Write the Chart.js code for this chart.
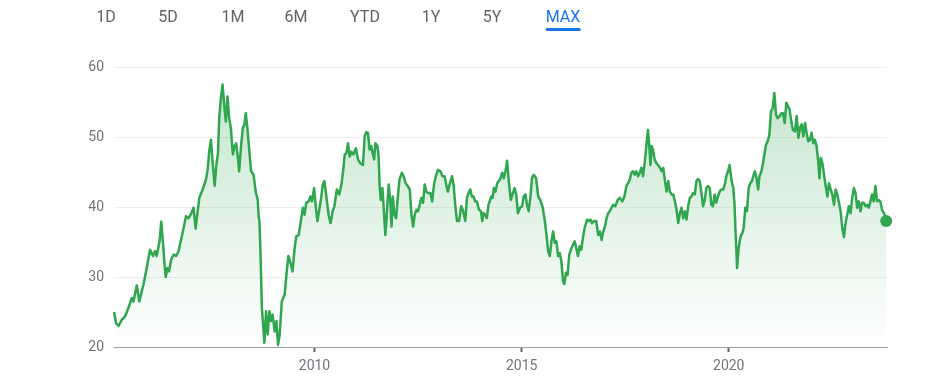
<!DOCTYPE html>
<html>
<head>
<meta charset="utf-8">
<script src="https://cdn.jsdelivr.net/npm/chart.js@4.4.0/dist/chart.umd.min.js"></script>
<style>
  html, body { margin: 0; padding: 0; background: #fff; }
  #wrap { position: relative; width: 946px; height: 383px; overflow: hidden; }
  #graph { position: absolute; left: 0; top: 0; }
  #tabs { position: absolute; left: 0; top: 0; width: 946px; height: 34px; font-family: Roboto, Arial, sans-serif; font-size: 16px; color: #5f6368; }
  #tabs span { position: absolute; top: 0; line-height: 34px; transform: translateX(-50%); white-space: nowrap; }
  #tabs span.on { color: #1a73e8; }
  #tabs span.on::after { content: ''; position: absolute; left: 0; right: 0; bottom: 3px; height: 3px; border-radius: 2px; background: #1a73e8; }
</style>
</head>
<body>
<div id="wrap">
  <canvas id="graph" width="946" height="383"></canvas>
  <div id="tabs"></div>
</div>
<script>
// range buttons above the chart
const ranges = ['1D', '5D', '1M', '6M', 'YTD', '1Y', '5Y', 'MAX'];
const rangeX = [106, 168, 233, 296, 365, 431, 492, 563];
const activeRange = 'MAX';

// axis ticks
const xTicks = [2010, 2015, 2020];
const yTicks = [20, 30, 40, 50, 60];

// price history, dates as decimal years
const dates = [
  2005.16, 2005.21, 2005.27, 2005.35, 2005.43, 2005.51, 2005.59, 2005.63, 2005.71, 2005.77,
  2005.87, 2005.95, 2006.03, 2006.10, 2006.15, 2006.19, 2006.26, 2006.30, 2006.34, 2006.38,
  2006.41, 2006.45, 2006.49, 2006.54, 2006.60, 2006.66, 2006.72, 2006.77, 2006.84, 2006.90,
  2006.96, 2007.01, 2007.08, 2007.13, 2007.17, 2007.22, 2007.30, 2007.38, 2007.42, 2007.46,
  2007.50, 2007.54, 2007.59, 2007.63, 2007.67, 2007.70, 2007.74, 2007.78, 2007.82, 2007.86,
  2007.90, 2007.94, 2007.98, 2008.03, 2008.07, 2008.11, 2008.17,
  2008.18, 2008.23, 2008.27, 2008.31, 2008.34, 2008.38, 2008.42, 2008.47, 2008.53, 2008.58,
  2008.63, 2008.65, 2008.67, 2008.70, 2008.73, 2008.76, 2008.79, 2008.83, 2008.87, 2008.91,
  2008.95, 2008.99, 2009.04, 2009.08, 2009.12, 2009.16, 2009.21, 2009.28, 2009.33, 2009.37,
  2009.43, 2009.47, 2009.52, 2009.56, 2009.62, 2009.67, 2009.72, 2009.76, 2009.80, 2009.86,
  2009.90, 2009.94, 2009.99, 2010.03, 2010.07, 2010.11, 2010.16, 2010.20, 2010.24, 2010.28,
  2010.34, 2010.39, 2010.44, 2010.48, 2010.54, 2010.60, 2010.65, 2010.69, 2010.73, 2010.77,
  2010.81, 2010.85, 2010.89, 2010.94, 2011.00, 2011.05, 2011.10,
  2011.17, 2011.21, 2011.25, 2011.29, 2011.33, 2011.37, 2011.41, 2011.44, 2011.47, 2011.52,
  2011.55, 2011.57, 2011.60, 2011.64, 2011.67, 2011.71, 2011.75, 2011.79, 2011.83, 2011.86,
  2011.89, 2011.93, 2011.97, 2012.01, 2012.05, 2012.11, 2012.15, 2012.20, 2012.25, 2012.30,
  2012.34, 2012.38, 2012.42, 2012.46, 2012.50, 2012.54, 2012.58, 2012.62, 2012.66, 2012.70,
  2012.74, 2012.80, 2012.84, 2012.89, 2012.94, 2012.98, 2013.04, 2013.09, 2013.14, 2013.18,
  2013.22, 2013.26, 2013.32, 2013.36, 2013.40, 2013.44, 2013.49, 2013.54, 2013.58, 2013.64,
  2013.68, 2013.72, 2013.76, 2013.80, 2013.84, 2013.88, 2013.92, 2013.97, 2014.02, 2014.05,
  2014.08, 2014.12, 2014.16, 2014.20,
  2014.27, 2014.30, 2014.33, 2014.37, 2014.41, 2014.45, 2014.49, 2014.53, 2014.57, 2014.61,
  2014.65, 2014.69, 2014.74, 2014.78, 2014.83, 2014.87, 2014.91, 2014.96, 2015.01, 2015.05,
  2015.09, 2015.13, 2015.17, 2015.21, 2015.25, 2015.29, 2015.35, 2015.40, 2015.45, 2015.51,
  2015.56, 2015.60, 2015.64, 2015.68, 2015.72, 2015.76, 2015.80, 2015.84, 2015.88, 2015.92,
  2015.96, 2016.00, 2016.03, 2016.07, 2016.11, 2016.15, 2016.20, 2016.24, 2016.28, 2016.32,
  2016.36, 2016.40, 2016.44, 2016.48, 2016.52, 2016.58, 2016.62, 2016.66, 2016.70, 2016.75,
  2016.80, 2016.85, 2016.89, 2016.93, 2016.97, 2017.01, 2017.05, 2017.09, 2017.13, 2017.17,
  2017.21,
  2017.26, 2017.32, 2017.37, 2017.43, 2017.48, 2017.53, 2017.57, 2017.61, 2017.65, 2017.69,
  2017.73, 2017.77, 2017.81, 2017.85, 2017.89, 2017.93, 2017.97, 2018.01, 2018.05, 2018.08,
  2018.11, 2018.14, 2018.17, 2018.21, 2018.25, 2018.29, 2018.34, 2018.38, 2018.42, 2018.46,
  2018.50, 2018.54, 2018.58, 2018.62, 2018.66, 2018.70, 2018.74, 2018.78, 2018.82, 2018.86,
  2018.90, 2018.94, 2018.98, 2019.02, 2019.06, 2019.10, 2019.14, 2019.18, 2019.22, 2019.26,
  2019.30, 2019.34, 2019.38, 2019.42, 2019.46, 2019.50, 2019.54, 2019.58, 2019.62, 2019.66,
  2019.70, 2019.74, 2019.78, 2019.82, 2019.87, 2019.91, 2019.95, 2019.99, 2020.02, 2020.05,
  2020.07, 2020.11, 2020.14, 2020.16, 2020.19, 2020.20, 2020.24, 2020.27, 2020.30, 2020.33,
  2020.36,
  2020.40, 2020.44, 2020.48, 2020.52, 2020.56, 2020.60, 2020.63, 2020.67, 2020.71, 2020.74,
  2020.78, 2020.82, 2020.86, 2020.90, 2020.94, 2020.98, 2021.02, 2021.06, 2021.10, 2021.14,
  2021.18, 2021.23, 2021.27, 2021.31, 2021.35, 2021.39, 2021.43, 2021.47, 2021.51, 2021.55,
  2021.60, 2021.64, 2021.68, 2021.72, 2021.76, 2021.80, 2021.84, 2021.88, 2021.92, 2021.96,
  2022.00, 2022.04, 2022.08, 2022.12, 2022.16, 2022.19, 2022.22, 2022.26, 2022.30, 2022.34,
  2022.38, 2022.42, 2022.46, 2022.50, 2022.54, 2022.58, 2022.62, 2022.66, 2022.70, 2022.74,
  2022.78, 2022.82, 2022.86, 2022.90, 2022.94, 2022.98, 2023.02, 2023.06, 2023.10, 2023.14,
  2023.18, 2023.22, 2023.26, 2023.30, 2023.34, 2023.38, 2023.42, 2023.46, 2023.50, 2023.54,
  2023.58, 2023.62, 2023.66, 2023.70, 2023.75, 2023.80
];

const prices = [
  25.0, 23.4, 23.0, 23.9, 24.4, 25.6, 27.0, 26.5, 28.8, 26.5,
  28.9, 31.3, 33.9, 33.0, 33.7, 33.0, 35.1, 37.9, 35.1, 31.8,
  30.0, 31.3, 30.8, 32.5, 33.2, 33.0, 33.7, 35.1, 37.0, 38.7,
  38.4, 38.9, 39.9, 36.9, 38.9, 41.3, 42.5, 43.9, 45.3, 48.0,
  49.6, 46.5, 43.0, 46.0, 47.7, 52.7, 55.6, 57.5, 54.6, 52.2,
  55.8, 52.7, 51.3, 47.5, 48.7, 49.1, 46.0,
  45.1, 48.9, 51.3, 51.8, 53.4, 51.3, 48.4, 45.1, 44.6, 42.2,
  41.0, 38.7, 38.0, 32.7, 25.6, 23.2, 20.6, 25.1, 21.8, 25.1,
  23.7, 24.6, 22.2, 23.7, 20.3, 21.8, 26.5, 27.5, 30.8, 33.0,
  31.8, 30.8, 34.1, 35.8, 36.0, 38.0, 39.9, 38.9, 40.6, 40.8,
  41.5, 40.8, 42.7, 40.1, 38.0, 39.4, 41.3, 43.2, 43.7, 41.8,
  38.9, 37.7, 39.4, 40.1, 42.5, 41.8, 43.2, 45.1, 47.5, 47.7,
  49.1, 47.2, 47.9, 47.5, 48.4, 46.8, 46.3,
  46.0, 50.1, 50.7, 50.6, 48.2, 48.7, 47.5, 46.8, 49.1, 48.7,
  47.0, 43.2, 41.0, 42.7, 39.9, 36.0, 39.4, 43.2, 40.8, 37.2,
  41.5, 38.9, 38.4, 41.3, 43.9, 44.9, 44.4, 43.4, 43.0, 42.5,
  38.9, 37.2, 38.9, 39.6, 39.4, 40.3, 41.3, 40.6, 43.2, 42.2,
  42.0, 42.0, 40.8, 43.4, 44.6, 45.3, 45.1, 44.4, 44.4, 43.2,
  42.2, 43.2, 44.4, 43.0, 40.1, 38.0, 38.0, 40.1, 39.6, 38.0,
  41.3, 42.0, 42.5, 41.5, 41.5, 40.8, 40.8, 39.6, 39.4, 38.0,
  39.1, 38.9, 38.4, 40.3,
  41.5, 41.3, 42.7, 42.2, 43.4, 43.7, 44.1, 44.9, 44.1, 45.1,
  46.6, 43.7, 41.0, 41.8, 42.7, 41.8, 39.1, 39.9, 40.1, 41.5,
  41.8, 40.3, 39.4, 41.3, 44.1, 44.6, 44.1, 41.5, 41.0, 39.9,
  38.0, 36.0, 33.7, 33.0, 35.1, 36.5, 34.9, 35.1, 33.0, 33.4,
  32.2, 29.4, 29.0, 30.6, 30.3, 33.2, 34.1, 34.6, 35.1, 34.1,
  33.0, 34.4, 33.9, 35.6, 37.0, 38.2, 38.0, 38.2, 37.7, 38.0,
  38.0, 36.0, 36.5, 35.3, 36.5, 37.2, 38.4, 39.1, 39.4, 39.9,
  40.3,
  40.1, 41.0, 41.3, 40.8, 41.5, 43.0, 43.4, 43.9, 44.9, 45.1,
  44.6, 45.1, 44.4, 44.9, 45.6, 44.4, 46.3, 48.7, 51.0, 48.9,
  46.0, 48.7, 48.2, 46.8, 46.3, 46.0, 45.6, 45.1, 45.6, 43.7,
  42.2, 43.7, 42.2, 41.8, 41.8, 40.8, 39.6, 37.7, 39.1, 39.9,
  38.4, 39.4, 38.2, 40.1, 41.3, 41.5, 42.0, 41.8, 43.7, 44.0,
  43.7, 42.0, 40.1, 41.0, 42.7, 43.0, 42.7, 40.3, 40.1, 41.8,
  40.6, 41.5, 42.2, 42.5, 42.5, 43.4, 44.6, 45.3, 46.0, 44.6,
  43.7, 42.7, 40.3, 37.0, 33.0, 31.3, 34.1, 35.3, 36.0, 36.3,
  37.0,
  39.9, 39.4, 42.7, 43.4, 43.7, 44.6, 45.1, 44.1, 42.5, 44.4,
  44.9, 46.0, 47.5, 48.9, 49.4, 50.3, 53.7, 54.1, 56.3, 53.2,
  52.7, 53.0, 53.4, 53.4, 52.0, 54.9, 54.4, 53.9, 52.2, 51.0,
  50.8, 53.0, 49.9, 51.3, 51.8, 50.1, 52.0, 50.6, 49.4, 49.6,
  50.6, 49.1, 49.6, 48.7, 46.5, 44.1, 47.0, 46.3, 44.6, 43.0,
  41.5, 43.4, 42.5, 41.8, 40.3, 42.5, 41.8, 40.6, 39.4, 37.0,
  35.7, 37.7, 38.9, 40.1, 39.1, 41.3, 42.7, 42.0, 39.9, 40.8,
  39.4, 40.6, 40.6, 40.1, 40.3, 39.9, 40.8, 41.8, 40.8, 43.0,
  40.8, 41.0, 40.8, 39.6, 39.1, 38.0
];

const green = '#2fa64f';
const lastIndex = prices.length - 1;

// tabs
const tabs = document.getElementById('tabs');
ranges.forEach((r, i) => {
  const s = document.createElement('span');
  s.textContent = r;
  s.style.left = rangeX[i] + 'px';
  if (r === activeRange) s.className = 'on';
  tabs.appendChild(s);
});

const ctx = document.getElementById('graph').getContext('2d');

const chart = new Chart(ctx, {
  type: 'line',
  data: {
    datasets: [{
      data: dates.map((d, i) => ({ x: d, y: prices[i] })),
      borderColor: green,
      borderWidth: 2.5,
      borderJoinStyle: 'round',
      tension: 0,
      fill: 'start',
      clip: false,
      backgroundColor: function (c) {
        const area = c.chart.chartArea;
        if (!area) return 'rgba(52,168,83,0.1)';
        const g = c.chart.ctx.createLinearGradient(0, area.top, 0, area.bottom);
        g.addColorStop(0, 'rgba(52,168,83,0.30)');
        g.addColorStop(1, 'rgba(52,168,83,0)');
        return g;
      },
      pointRadius: c => (c.dataIndex === lastIndex ? 6 : 0),
      pointHoverRadius: 0,
      pointBorderWidth: 0,
      pointBackgroundColor: green,
      pointBorderColor: green,
    }],
  },
  options: {
    responsive: false,
    animation: false,
    events: [],
    layout: { padding: { top: 67, right: 59, left: 0, bottom: 0 } },
    plugins: { legend: { display: false }, tooltip: { enabled: false } },
    scales: {
      x: {
        type: 'linear',
        min: 2005.16,
        max: 2023.82,
        afterBuildTicks: s => { s.ticks = xTicks.map(v => ({ value: v })); },
        afterFit: s => { s.height = 36; },
        ticks: {
          color: '#70757a',
          font: { family: 'Roboto, Arial, sans-serif', size: 14 },
          padding: 6,
          maxRotation: 0,
          autoSkip: false,
          callback: v => String(v),
        },
        grid: { drawOnChartArea: false, drawTicks: true, tickLength: 5, tickColor: '#5f6368', tickWidth: 2 },
        border: { display: true, color: '#9aa0a6', width: 1 },
      },
      y: {
        min: 20,
        max: 60,
        afterBuildTicks: s => { s.ticks = yTicks.map(v => ({ value: v })); },
        afterFit: s => { s.width = 114; },
        ticks: {
          color: '#70757a',
          font: { family: 'Roboto, Arial, sans-serif', size: 14 },
          padding: 10,
          callback: v => String(v),
        },
        grid: { color: '#eeeeee', drawTicks: false },
        border: { display: false },
      },
    },
  },
});
</script>
</body>
</html>
